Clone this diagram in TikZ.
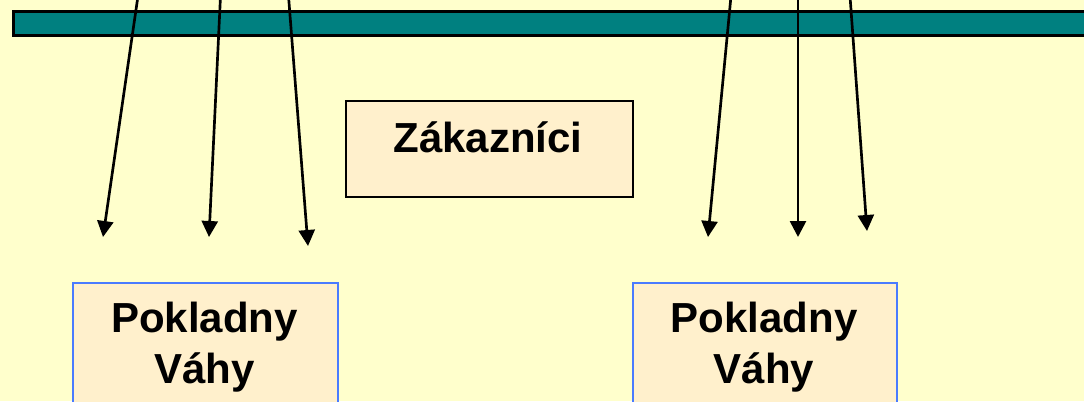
\documentclass[tikz,border=0pt]{standalone}
\usepackage{fontspec}
\setmainfont{Liberation Sans}
\usetikzlibrary{arrows.meta}
\definecolor{bg}{HTML}{FFFFCC}
\definecolor{teal1}{HTML}{008080}
\definecolor{boxfill}{HTML}{FFF0CC}
\definecolor{boxblue}{HTML}{4A7BFF}
\tikzset{
  lbl/.style={font=\fontsize{31.5}{38}\selectfont\bfseries, anchor=base, inner sep=0pt},
  arr/.style={line width=2pt, -{Triangle[length=12pt,width=12pt]}},
}
\begin{document}
\begin{tikzpicture}[x=0.75pt,y=-0.75pt]
\fill[bg] (0,0) rectangle (1084,401);
\useasboundingbox (0,0) rectangle (1084,401);
% bar
\node[draw=black, line width=2pt, fill=teal1, minimum width=1100*0.75pt, minimum height=24*0.75pt, anchor=north west, inner sep=0pt] (bar) at (12,10) {};
% boxes
\node[draw=black, line width=1.6pt, fill=boxfill, minimum width=287*0.75pt, minimum height=96*0.75pt, anchor=north west, inner sep=0pt] (zak) at (345,100) {};
\node[lbl] (zaktext) at (488,152) {Zákazníci};
\node[draw=boxblue, line width=1.6pt, fill=boxfill, minimum width=265*0.75pt, minimum height=140*0.75pt, anchor=north west, inner sep=0pt] (pl) at (72,282) {};
\node[lbl] (pl1) at (204.5,332) {Pokladny};
\node[lbl] (pl2) at (204.5,383) {Váhy};
\node[draw=boxblue, line width=1.6pt, fill=boxfill, minimum width=264*0.75pt, minimum height=140*0.75pt, anchor=north west, inner sep=0pt] (pr) at (632,282) {};
\node[lbl] (pr1) at (764,332) {Pokladny};
\node[lbl] (pr2) at (764,383) {Váhy};
% arrows
\coordinate (s1) at (138,-4); \coordinate (e1) at (103,237);
\coordinate (s2) at (220.5,-4); \coordinate (e2) at (209,237);
\coordinate (s3) at (288.5,-4); \coordinate (e3) at (308,246);
\coordinate (s4) at (731,-4); \coordinate (e4) at (708,237);
\coordinate (s5) at (798,-4); \coordinate (e5) at (798,237);
\coordinate (s6) at (850,-4); \coordinate (e6) at (867,231);
\foreach \i in {1,...,6} { \draw[arr] (s\i) -- (e\i); }
\end{tikzpicture}
\end{document}
